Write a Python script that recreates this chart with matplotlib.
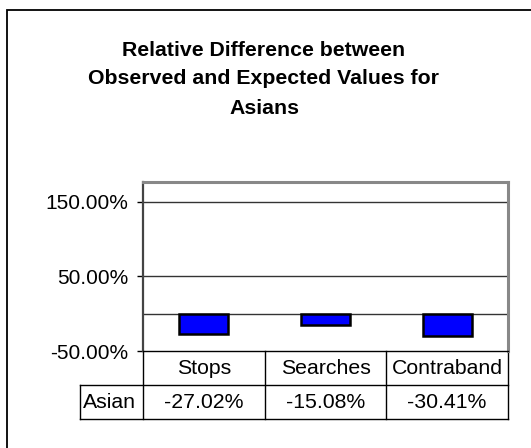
import matplotlib
matplotlib.use("Agg")
import matplotlib.pyplot as plt
from matplotlib.patches import Rectangle
from matplotlib.lines import Line2D

plt.rcParams['font.family'] = ['Liberation Sans', 'DejaVu Sans']

categories = ["Stops", "Searches", "Contraband"]
series_name = "Asian"
values = [-27.02, -15.08, -30.41]
yticks = [-50, 50, 150]
title_lines = ["Relative Difference between", "Observed and Expected Values for", "Asians"]

W, H = 531, 448
fig = plt.figure(figsize=(W / 100, H / 100), dpi=100)

# outer chart border (extends beyond the right/bottom edges)
fig.patches.append(Rectangle((7 / W, 1 - 460 / H), 540 / W, 450 / H,
                             transform=fig.transFigure, fill=False,
                             edgecolor='black', linewidth=1.3))

left, right, top, bottom = 143, 508, 182, 351
ax = fig.add_axes([left / W, 1 - bottom / H, (right - left) / W, (bottom - top) / H])

x = list(range(len(categories)))
ax.bar(x, values, width=0.4, color='#0000FF', edgecolor='black', linewidth=1.8, zorder=3)
ax.set_xlim(-0.5, len(categories) - 0.5)
ax.set_ylim(-50, 176.5)
ax.set_yticks(yticks)
ax.set_yticklabels([f"{v:.2f}%" for v in yticks], fontsize=15)
ax.set_xticks([])
ax.tick_params(axis='y', length=4.5, width=1, pad=6, color='black')
for yv in yticks[1:]:
    ax.axhline(yv, color='#333333', linewidth=1.0, zorder=1)
ax.axhline(0, color='#333333', linewidth=1.0, zorder=2)
for s in ['top', 'right']:
    ax.spines[s].set_color('#888888')
    ax.spines[s].set_linewidth(2.2)
ax.spines['left'].set_color('#444444')
ax.spines['left'].set_linewidth(1.6)
ax.spines['bottom'].set_color('black')
ax.spines['bottom'].set_linewidth(1.0)

# data table below the plot
axh = bottom - top
r1 = -34 / axh
r2 = -68 / axh
lab_left = (80 - left) / (right - left)
n = len(categories)
tr = ax.transAxes
lines = [
    ([0, 0], [0, r2]),
    ([1, 1], [0, r2]),
    ([lab_left, 1], [r1, r1]),
    ([lab_left, 1], [r2, r2]),
    ([lab_left, lab_left], [r1, r2]),
]
for i in range(1, n):
    lines.append(([i / n, i / n], [0, r2]))
for xs, ys in lines:
    ax.add_line(Line2D(xs, ys, transform=tr, color='black', linewidth=1.0, clip_on=False))

fs_tab = 15.3
for i, (c, v) in enumerate(zip(categories, values)):
    cx = (i + 0.5) / n
    ax.text(cx, r1 / 2, c, transform=tr, ha='center', va='center', fontsize=fs_tab)
    ax.text(cx, (r1 + r2) / 2, f"{v:.2f}%", transform=tr, ha='center', va='center', fontsize=fs_tab)
ax.text(lab_left + 3 / (right - left), (r1 + r2) / 2, series_name, transform=tr,
        ha='left', va='center', fontsize=fs_tab)

for k, line in enumerate(title_lines):
    fig.text(264 / W, 1 - (50 + 29 * k) / H, line, ha='center', va='center',
             fontsize=15.3, fontweight='bold')

fig.savefig("out.png", dpi=100)
